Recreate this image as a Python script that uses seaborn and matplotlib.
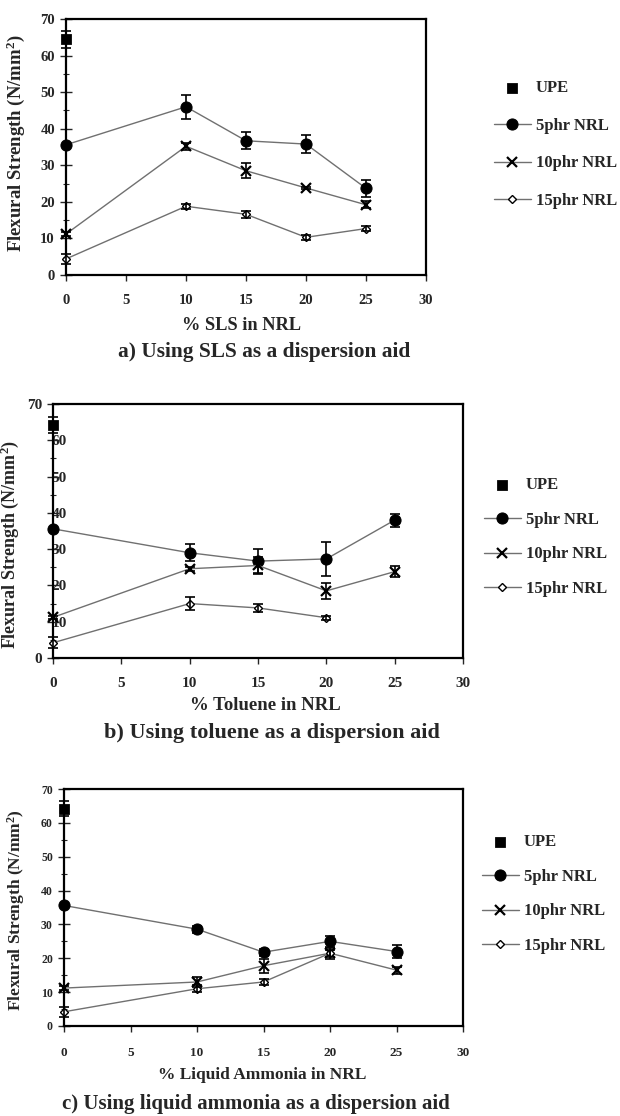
import numpy as np
import matplotlib
matplotlib.use("Agg")
import matplotlib.pyplot as plt
import seaborn as sns

# x positions (% dispersion aid in NRL)
x_all = [0, 10, 15, 20, 25]
x_short = [0, 10, 15, 20]

# UPE reference (same sample in each panel)
upe_a, upe_a_err = 64.4, 2.2
upe_b, upe_b_err = 64.2, 2.3
upe_c, upe_c_err = 64.2, 2.2

# a) SLS
a_5 = [35.6, 46.0, 36.7, 35.8, 23.7]
a_5_err = [0.0, 3.3, 2.3, 2.5, 2.3]
a_10 = [11.2, 35.2, 28.5, 23.8, 19.2]
a_10_err = [0.5, 1.0, 2.0, 0.3, 1.0]
a_15 = [4.4, 18.8, 16.6, 10.3, 12.7]
a_15_err = [1.3, 0.7, 1.0, 0.7, 0.7]

# b) toluene
b_5 = [35.6, 29.0, 26.7, 27.3, 38.0]
b_5_err = [0.0, 2.4, 3.3, 4.7, 1.8]
b_10 = [11.2, 24.6, 25.5, 18.5, 23.8]
b_10_err = [0.5, 0.6, 2.4, 2.3, 1.6]
b_15 = [4.2, 15.0, 13.8, 11.1]
b_15_err = [1.5, 1.8, 1.0, 0.5]

# c) liquid ammonia
c_5 = [35.6, 28.6, 21.8, 25.0, 22.0]
c_5_err = [0.0, 1.0, 1.0, 1.7, 2.0]
c_10 = [11.2, 13.0, 17.8, 21.5, 16.5]
c_10_err = [0.5, 1.5, 2.0, 1.6, 1.0]
c_15 = [4.2, 11.0, 13.0, 21.5]
c_15_err = [1.5, 1.0, 1.0, 1.0]

W, H = 620, 1116

sns.set_style("white")
plt.rcParams['font.family'] = ['Liberation Serif', 'DejaVu Serif']
plt.rcParams['font.weight'] = 'bold'
plt.rcParams['mathtext.fontset'] = 'custom'
plt.rcParams['mathtext.rm'] = 'Liberation Serif:bold'
plt.rcParams['mathtext.it'] = 'Liberation Serif:bold'

fig = plt.figure(figsize=(W / 100, H / 100), dpi=100)


def px_axes(left, top, right, bottom):
    return [left / W, 1 - bottom / H, (right - left) / W, (bottom - top) / H]


def fig_text(x, y, s, size):
    fig.text(x / W, 1 - y / H, s, fontsize=size, fontweight='bold',
             ha='center', va='center')


def panel(box, upe, upe_err, s5, e5, s10, e10, xs15, s15, e15,
          ytick_fs, xtick_fs, xpad, ylab_fs, ylab_xy, leg_xy, leg_sp):
    ax = fig.add_axes(px_axes(*box))
    gray = '#707070'
    sns.scatterplot(x=[0], y=[upe], marker='s', s=50, color='black',
                    edgecolor='black', label='UPE', ax=ax, zorder=5, clip_on=False)
    sns.lineplot(x=x_all, y=s5, color=gray, lw=1, marker='o', markersize=8,
                 markerfacecolor='black', markeredgecolor='black',
                 label='5phr NRL', ax=ax, zorder=4, clip_on=False)
    sns.lineplot(x=x_all, y=s10, color=gray, lw=1, marker='x', markersize=7,
                 markeredgewidth=1.6, markeredgecolor='black',
                 label='10phr NRL', ax=ax, zorder=4, clip_on=False)
    sns.lineplot(x=xs15, y=s15, color=gray, lw=1, marker='D', markersize=4.5,
                 markerfacecolor='white', markeredgecolor='black', markeredgewidth=1,
                 label='15phr NRL', ax=ax, zorder=4, clip_on=False)
    eb = dict(fmt='none', ecolor='black', elinewidth=1.2, capsize=3.3,
              capthick=1.2, zorder=6, clip_on=False)
    ax.errorbar([0], [upe], yerr=[upe_err], **eb)
    ax.errorbar(x_all, s5, yerr=e5, **eb)
    ax.errorbar(x_all, s10, yerr=e10, **eb)
    ax.errorbar(xs15, s15, yerr=e15, **eb)

    ax.set_xlim(0, 30)
    ax.set_ylim(0, 70)
    ax.set_xticks(range(0, 31, 5))
    ax.set_yticks(range(0, 71, 10))
    ax.set_yticks(range(5, 70, 10), minor=True)
    for sp in ax.spines.values():
        sp.set_visible(True)
        sp.set_color('black')
        sp.set_linewidth(1.6)
    ax.tick_params(axis='x', direction='out', length=4, width=1, pad=xpad,
                   labelsize=xtick_fs, bottom=True)
    ax.tick_params(axis='y', which='major', direction='inout', length=8, width=1,
                   pad=4, labelsize=ytick_fs, left=True)
    ax.tick_params(axis='y', which='minor', direction='inout', length=5, width=0.8,
                   left=True)
    for lbl in ax.get_xticklabels() + ax.get_yticklabels():
        lbl.set_fontweight('bold')
    ax.set_xlabel('')
    ax.set_ylabel('Flexural Strength (N/mm$^2$)', fontsize=ylab_fs, fontweight='bold')
    ax.yaxis.set_label_coords((ylab_xy[0] - box[0]) / (box[2] - box[0]),
                              (box[3] - ylab_xy[1]) / (box[3] - box[1]))

    ax.legend(loc='upper left', bbox_to_anchor=(leg_xy[0] / W, 1 - leg_xy[1] / H),
              bbox_transform=fig.transFigure, frameon=False, borderpad=0,
              borderaxespad=0, handlelength=2.2, handletextpad=0.3,
              labelspacing=leg_sp, prop={'family': 'Liberation Serif',
                                         'weight': 'bold', 'size': 12})
    return ax


ax_a = panel((66, 19, 426, 275), upe_a, upe_a_err, a_5, a_5_err, a_10, a_10_err,
             x_all, a_15, a_15_err, 10.5, 10.5, 10, 13.5, (27, 143), (494, 80), 1.3)
fig_text(242, 326, '% SLS in NRL', 13.2)
fig_text(264, 352, 'a) Using SLS as a dispersion aid', 15.4)

ax_b = panel((53, 404, 463, 658), upe_b, upe_b_err, b_5, b_5_err, b_10, b_10_err,
             x_short, b_15, b_15_err, 11, 11, 10, 13, (21, 544), (484, 477), 1.12)
# in the original the inner y labels of panel b sit over the axis line
for lbl in ax_b.get_yticklabels()[1:-1]:
    lbl.set_x(0.061)
fig_text(265, 705, '% Toluene in NRL', 13.5)
fig_text(272, 733, 'b) Using toluene as a dispersion aid', 16)

ax_c = panel((64, 789, 463, 1026), upe_c, upe_c_err, c_5, c_5_err, c_10, c_10_err,
             x_short, c_15, c_15_err, 8.5, 9.5, 11, 12.5, (27, 910), (482, 834), 1.12)
fig_text(262, 1075, '% Liquid Ammonia in NRL', 12.5)
fig_text(256, 1104, 'c) Using liquid ammonia as a dispersion aid', 15)

fig.savefig('out.png', dpi=100)
